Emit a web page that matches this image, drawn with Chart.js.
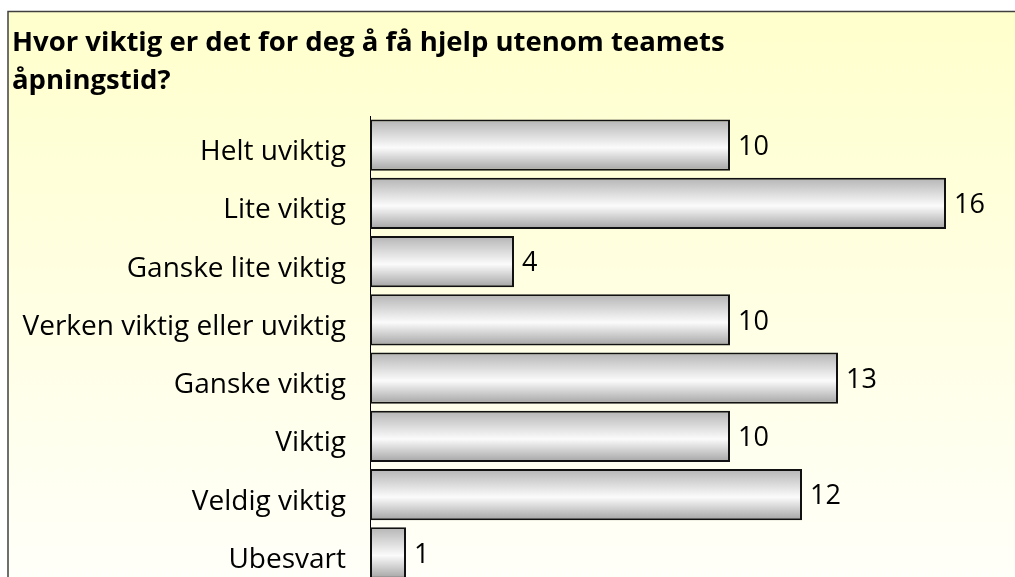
<!DOCTYPE html>
<html>
<head>
<meta charset="utf-8">
<script src="https://cdn.jsdelivr.net/npm/chart.js@4.4.0/dist/chart.umd.min.js"></script>
<style>
  html, body { margin: 0; padding: 0; background: #fff; overflow: hidden; }
  #wrap { width: 1015px; height: 577px; overflow: hidden; position: relative; }
  canvas { display: block; }
</style>
</head>
<body>
<div id="wrap"><canvas id="chart" width="1030" height="600"></canvas></div>
<script>
// --- DATA ---
const titleLines = ["Hvor viktig er det for deg å få hjelp utenom teamets", "åpningstid?"];
const categories = [
  "Helt uviktig",
  "Lite viktig",
  "Ganske lite viktig",
  "Verken viktig eller uviktig",
  "Ganske viktig",
  "Viktig",
  "Veldig viktig",
  "Ubesvart"
];
const counts = [10, 16, 4, 10, 13, 10, 12, 1];
const axisMax = 18;

// --- STYLE ---
const FONT = "'Open Sans', 'Noto Sans', sans-serif";
const BAR_PCT = 0.88;

// yellow panel + frame behind everything
const framePlugin = {
  id: "frame",
  beforeDraw(chart) {
    const { ctx, width, height } = chart;
    ctx.save();
    ctx.fillStyle = "#ffffff";
    ctx.fillRect(0, 0, width, height);
    const g = ctx.createLinearGradient(0, 11, 0, 590);
    g.addColorStop(0, "#ffffcc");
    g.addColorStop(1, "#fffffa");
    ctx.fillStyle = g;
    ctx.fillRect(8, 11, width, height);
    ctx.strokeStyle = "#404040";
    ctx.lineWidth = 1.5;
    ctx.beginPath();
    ctx.moveTo(8, height + 5);
    ctx.lineTo(8, 11.5);
    ctx.lineTo(width + 5, 11.5);
    ctx.stroke();
    ctx.restore();
  }
};

// value labels right of each bar
const valueLabels = {
  id: "valueLabels",
  afterDatasetsDraw(chart) {
    const { ctx } = chart;
    const meta = chart.getDatasetMeta(0);
    ctx.save();
    ctx.font = "27px " + FONT;
    ctx.fillStyle = "#000";
    ctx.textBaseline = "middle";
    ctx.textAlign = "left";
    meta.data.forEach((bar, i) => {
      ctx.fillText(String(counts[i]), bar.x + 8, bar.y + 2);
    });
    ctx.restore();
  }
};

function barGradient(context) {
  const chart = context.chart;
  const yScale = chart.scales.y;
  if (!yScale || context.dataIndex === undefined) return "#dddddd";
  const c = yScale.getPixelForValue(context.dataIndex);
  const band = yScale.height / categories.length;
  const half = band * BAR_PCT / 2;
  if (!isFinite(c) || !isFinite(half) || half <= 0) return "#dddddd";
  const g = chart.ctx.createLinearGradient(0, c - half, 0, c + half);
  g.addColorStop(0, "#b4b4b4");
  g.addColorStop(0.55, "#fbfbfb");
  g.addColorStop(1, "#a4a4a4");
  return g;
}

new Chart(document.getElementById("chart"), {
  type: "bar",
  data: {
    labels: categories,
    datasets: [{
      data: counts,
      backgroundColor: barGradient,
      borderColor: "#111111",
      borderWidth: 2,
      borderSkipped: false,
      barPercentage: BAR_PCT,
      categoryPercentage: 1
    }]
  },
  options: {
    indexAxis: "y",
    responsive: false,
    animation: false,
    devicePixelRatio: 1,
    layout: { padding: { left: 12, right: 12, top: 0, bottom: 18 } },
    plugins: {
      legend: { display: false },
      tooltip: { enabled: false },
      title: {
        display: true,
        text: titleLines,
        align: "start",
        color: "#000",
        font: { family: FONT, size: 27.5, weight: "bold", lineHeight: 38 / 27.5 },
        padding: { top: 24.5, bottom: 15.5 }
      }
    },
    scales: {
      x: {
        display: false,
        min: 0,
        max: axisMax
      },
      y: {
        grid: { display: false, drawTicks: false },
        border: { display: true, color: "#000", width: 1 },
        ticks: {
          color: "#000",
          font: { family: FONT, size: 28 },
          padding: 24,
          labelOffset: 7
        },
        afterFit(scale) {
          scale.width = 358;
          scale.paddingTop = 0;
          scale.paddingBottom = 0;
        }
      }
    }
  },
  plugins: [framePlugin, valueLabels]
});
</script>
</body>
</html>
